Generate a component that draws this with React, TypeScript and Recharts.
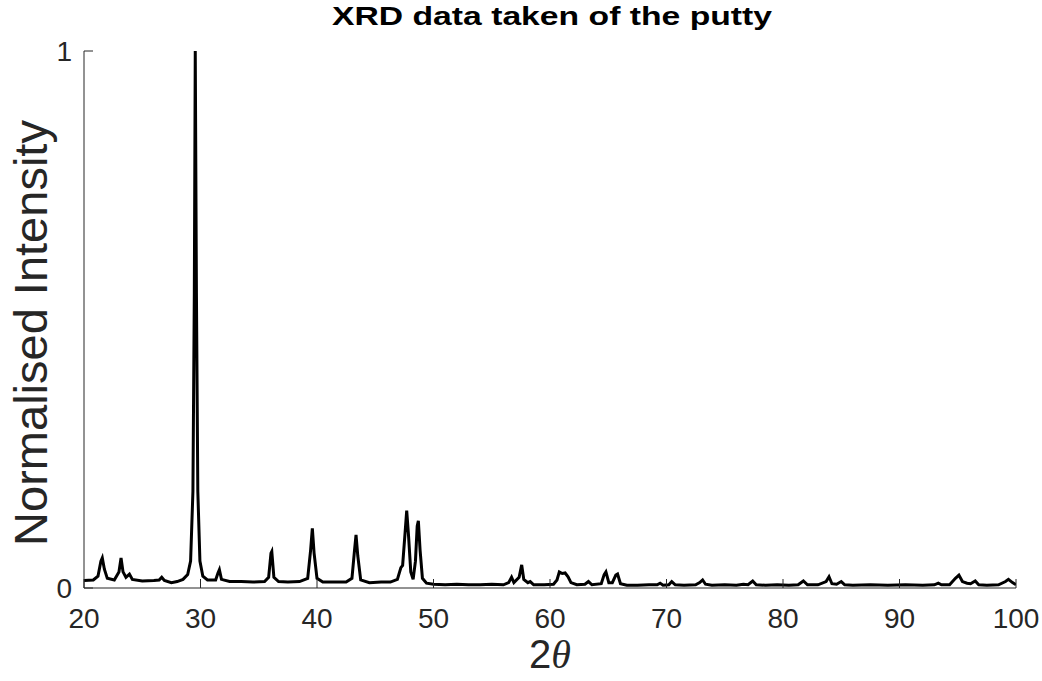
import React from 'react'
import { LineChart, Line, XAxis, YAxis } from 'recharts'

// 2theta positions and normalised intensity
const twoTheta = [
   20.0, 20.8, 21.2, 21.45, 21.57, 21.75, 22.0, 22.6, 23.0, 23.18, 23.35, 23.6, 23.9, 24.15, 25.0, 26.0, 26.45, 26.67,
   26.9, 27.5, 28.0, 28.5, 28.9, 29.15, 29.35, 29.47, 29.55, 29.65, 29.77, 29.95, 30.2, 30.6, 31.3, 31.5, 31.62, 31.8,
   32.5, 33.5, 34.5, 35.5, 35.85, 36.05, 36.12, 36.3, 36.7, 37.5, 38.5, 39.2, 39.45, 39.6, 39.75, 40.0, 40.5, 41.5,
   42.5, 43.0, 43.22, 43.35, 43.5, 43.75, 44.5, 45.5, 46.3, 46.9, 47.2, 47.35, 47.55, 47.7, 47.85, 48.05, 48.25, 48.45,
   48.6, 48.7, 48.85, 49.05, 49.4, 50.0, 51.0, 52.0, 53.0, 54.0, 55.0, 56.0, 56.45, 56.7, 56.9, 57.35, 57.57, 57.75,
   58.1, 58.3, 58.6, 59.5, 60.3, 60.6, 60.8, 61.05, 61.3, 61.55, 61.8, 62.3, 63.0, 63.3, 63.6, 64.4, 64.65, 64.8,
   65.05, 65.35, 65.65, 65.8, 66.05, 66.6, 67.5, 68.5, 69.2, 69.45, 69.7, 70.2, 70.45, 70.75, 71.5, 72.5, 72.85, 73.1,
   73.35, 73.9, 75.0, 76.0, 76.6, 77.0, 77.4, 77.7, 78.5, 79.5, 80.5, 81.3, 81.75, 82.1, 83.0, 83.7, 83.95, 84.2,
   84.6, 85.0, 85.3, 86.0, 87.5, 89.0, 90.5, 92.0, 93.0, 93.33, 93.6, 94.3, 94.8, 95.1, 95.4, 95.8, 96.1, 96.5, 96.8,
   97.5, 98.5, 99.1, 99.35, 99.7, 100.0,
]
const intensity = [
   0.014, 0.015, 0.022, 0.05, 0.056, 0.035, 0.018, 0.015, 0.03, 0.056, 0.03, 0.02, 0.026, 0.016, 0.013, 0.014, 0.015,
   0.02, 0.014, 0.01, 0.012, 0.016, 0.025, 0.05, 0.18, 0.55, 1.0, 0.55, 0.18, 0.05, 0.022, 0.015, 0.015, 0.028, 0.034,
   0.016, 0.012, 0.012, 0.011, 0.012, 0.02, 0.065, 0.068, 0.02, 0.012, 0.011, 0.012, 0.018, 0.07, 0.111, 0.065, 0.018,
   0.011, 0.011, 0.011, 0.018, 0.07, 0.099, 0.06, 0.015, 0.01, 0.011, 0.011, 0.016, 0.038, 0.042, 0.1, 0.144, 0.1,
   0.03, 0.016, 0.05, 0.115, 0.125, 0.07, 0.018, 0.009, 0.007, 0.006, 0.007, 0.006, 0.006, 0.007, 0.006, 0.01, 0.02,
   0.01, 0.02, 0.043, 0.016, 0.01, 0.012, 0.006, 0.006, 0.007, 0.015, 0.03, 0.027, 0.028, 0.021, 0.01, 0.006, 0.007,
   0.012, 0.006, 0.008, 0.025, 0.03, 0.01, 0.01, 0.024, 0.026, 0.008, 0.005, 0.005, 0.006, 0.006, 0.009, 0.005,
   0.006, 0.012, 0.006, 0.005, 0.006, 0.01, 0.015, 0.007, 0.005, 0.006, 0.005, 0.007, 0.006, 0.013, 0.006, 0.005,
   0.006, 0.005, 0.006, 0.013, 0.006, 0.006, 0.012, 0.021, 0.008, 0.007, 0.012, 0.006, 0.005, 0.006, 0.005, 0.006,
   0.005, 0.006, 0.009, 0.006, 0.006, 0.018, 0.024, 0.012, 0.009, 0.008, 0.013, 0.006, 0.005, 0.006, 0.012, 0.016,
   0.01, 0.006,
]
const xTicks = [20, 30, 40, 50, 60, 70, 80, 90, 100]
const yTicks = [0, 1]

const data = twoTheta.map((t, i) => ({ t, v: intensity[i] }))

const axisColor = '#262626'
const font = "'Liberation Sans', Arial, sans-serif"

const XTick = (props: any) => {
   const { x, y, payload } = props
   return (
      <g>
         <line x1={x} y1={y} x2={x} y2={y - 9} stroke={axisColor} strokeWidth={1} />
         <text x={x} y={y + 40} textAnchor='middle' fontSize={28} fontFamily={font} fill='#262626'>
            {payload.value}
         </text>
      </g>
   )
}

const YTick = (props: any) => {
   const { x, y, payload } = props
   return (
      <g>
         <line x1={x} y1={y} x2={x + 9} y2={y} stroke={axisColor} strokeWidth={1} />
         <text x={x - 12} y={y + 10} textAnchor='end' fontSize={28} fontFamily={font} fill='#262626'>
            {payload.value}
         </text>
      </g>
   )
}

const App = () => (
   <div style={{ position: 'absolute', left: 0, top: 0, width: 1042, height: 681, background: '#fff' }}>
      <LineChart width={1042} height={681} data={data} margin={{ top: 51, right: 26, left: 0, bottom: 0 }}>
         <XAxis
            dataKey='t'
            type='number'
            domain={[20, 100]}
            ticks={xTicks}
            height={93}
            tickLine={false}
            tickSize={0}
            tickMargin={0}
            tick={<XTick />}
            axisLine={{ stroke: axisColor, strokeWidth: 1 }}
            allowDataOverflow
         />
         <YAxis
            type='number'
            domain={[0, 1]}
            ticks={yTicks}
            width={84}
            tickLine={false}
            tickSize={0}
            tickMargin={0}
            tick={<YTick />}
            axisLine={{ stroke: axisColor, strokeWidth: 1 }}
            allowDataOverflow
         />
         <Line
            dataKey='v'
            type='linear'
            stroke='#000'
            strokeWidth={3}
            dot={false}
            activeDot={false}
            isAnimationActive={false}
         />
      </LineChart>
      <svg width={1042} height={681} style={{ position: 'absolute', left: 0, top: 0, pointerEvents: 'none' }}>
         <text
            x={552}
            y={25}
            textAnchor='middle'
            fontSize={26}
            fontWeight='bold'
            fontFamily={font}
            fill='#000'
            textLength={440}
            lengthAdjust='spacingAndGlyphs'
         >
            XRD data taken of the putty
         </text>
         <text
            x={0}
            y={0}
            transform='translate(47,333) rotate(-90)'
            textAnchor='middle'
            fontSize={47}
            fontFamily={font}
            fill='#262626'
         >
            Normalised Intensity
         </text>
         <text x={550} y={668} textAnchor='middle' fontSize={40} fontFamily={font} fill='#262626'>
            2<tspan fontFamily="'Liberation Serif', serif" fontStyle='italic'>θ</tspan>
         </text>
      </svg>
   </div>
)

export default App
